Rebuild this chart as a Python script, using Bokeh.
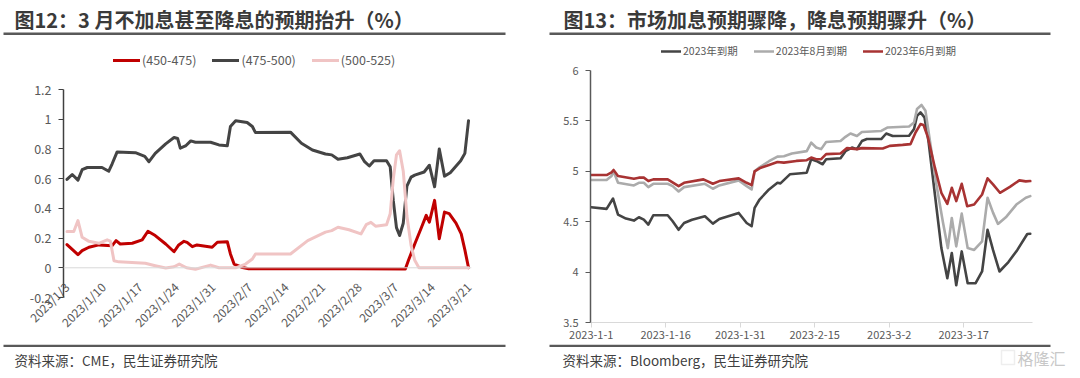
import math
from bokeh.plotting import figure
from bokeh.models import Label, BoxAnnotation, Legend, LegendItem, FixedTicker, Span, Range1d
from bokeh.layouts import row, column
from bokeh.embed import file_html
from bokeh.resources import INLINE

FONT = "Noto Sans CJK SC"

# ---------------- left chart data ----------------
l_title = "图12：3 月不加息甚至降息的预期抬升（%）"
l_source = "资料来源：CME，民生证券研究院"
l_names = ["(450-475)", "(475-500)", "(500-525)"]
l_xticks = [0, 7, 14, 21, 28, 35, 42, 49, 56, 63, 70, 77]
l_xlabels = ["2023/1/3", "2023/1/10", "2023/1/17", "2023/1/24", "2023/1/31", "2023/2/7",
             "2023/2/14", "2023/2/21", "2023/2/28", "2023/3/7", "2023/3/14", "2023/3/21"]
l_yticks = [-0.2, 0, 0.2, 0.4, 0.6, 0.8, 1, 1.2]
l_ylabels = ["-0.2", "0", "0.2", "0.4", "0.6", "0.8", "1", "1.2"]

l_red_d = [0.1, 2.2, 3.0, 4.3, 6.2, 8.75, 9.5, 10.3, 12.6, 14.5, 15.6, 17.0, 19.0, 20.6, 21.5,
           22.5, 23.1, 24.1, 25.0, 27.9, 28.9, 30.8, 31.4, 32.1, 33.7, 34.9, 45.0, 55.0, 64.9,
           65.5, 66.7, 68.0, 68.9, 69.5, 70.5, 71.4, 72.4, 73.3, 74.6, 75.6, 76.3, 77.0]
l_red_v = [0.156, 0.088, 0.115, 0.138, 0.154, 0.149, 0.183, 0.16, 0.165, 0.188, 0.246, 0.217,
           0.16, 0.108, 0.154, 0.178, 0.171, 0.142, 0.154, 0.138, 0.172, 0.176, 0.093, 0.025,
           0.002, -0.007, -0.007, -0.007, -0.008, 0.05, 0.16, 0.273, 0.353, 0.307, 0.454, 0.195,
           0.375, 0.364, 0.30, 0.228, 0.12, 0.0]

l_blk_d = [0.1, 1.1, 2.2, 3.0, 4.0, 6.8, 8.1, 8.75, 9.7, 13.2, 15.0, 15.8, 17.0, 19.0, 20.6,
           21.3, 21.8, 22.8, 23.8, 24.7, 27.6, 29.2, 30.8, 31.4, 32.4, 34.6, 35.6, 36.2, 42.9,
           45.0, 47.1, 49.6, 50.8, 52.0, 53.8, 56.2, 57.1, 58.0, 58.9, 61.3, 62.0, 62.6, 63.2,
           63.8, 64.5, 65.2, 66.0, 66.7, 68.5, 69.5, 70.5, 71.4, 72.4, 73.5, 75.5, 76.3, 77.0]
l_blk_v = [0.595, 0.628, 0.59, 0.66, 0.675, 0.675, 0.65, 0.70, 0.78, 0.775, 0.75, 0.714, 0.77,
           0.834, 0.877, 0.87, 0.805, 0.82, 0.854, 0.845, 0.845, 0.827, 0.822, 0.951, 0.99,
           0.978, 0.951, 0.91, 0.913, 0.838, 0.793, 0.766, 0.76, 0.73, 0.741, 0.766, 0.714,
           0.685, 0.72, 0.72, 0.68, 0.45, 0.27, 0.217, 0.30, 0.55, 0.61, 0.624, 0.645, 0.69,
           0.545, 0.80, 0.617, 0.64, 0.72, 0.77, 0.99]

l_pnk_d = [0.1, 1.4, 2.2, 3.0, 4.3, 6.2, 7.8, 8.4, 9.1, 10.0, 15.1, 17.0, 19.0, 20.6, 21.6,
           23.0, 24.7, 27.6, 29.2, 32.4, 34.3, 35.6, 36.2, 42.9, 46.2, 49.6, 50.8, 52.0, 54.1,
           56.4, 57.4, 58.3, 59.2, 61.3, 62.0, 62.6, 63.2, 63.8, 64.5, 65.2, 66.0, 66.7, 67.5,
           77.0]
l_pnk_v = [0.244, 0.244, 0.318, 0.205, 0.178, 0.165, 0.188, 0.18, 0.047, 0.04, 0.03, 0.014,
           -0.002, 0.007, 0.025, 0.0, -0.01, 0.018, 0.0, 0.0, 0.025, 0.059, 0.093, 0.093, 0.183,
           0.24, 0.25, 0.273, 0.256, 0.228, 0.29, 0.306, 0.28, 0.29, 0.364, 0.6, 0.76, 0.788,
           0.65, 0.35, 0.15, 0.05, 0.0, 0.0]

# ---------------- right chart data ----------------
r_title = "图13：市场加息预期骤降，降息预期骤升（%）"
r_source = "资料来源：Bloomberg，民生证券研究院"
r_names = ["2023年到期", "2023年8月到期", "2023年6月到期"]
r_xticks = [0, 15, 30, 45, 60, 75]
r_xlabels = ["2023-1-1", "2023-1-16", "2023-1-31", "2023-2-15", "2023-3-2", "2023-3-17"]
r_yticks = [3.5, 4, 4.5, 5, 5.5, 6]
r_ylabels = ["3.5", "4", "4.5", "5", "5.5", "6"]

r_dk_d = [0, 3.1, 4.4, 5.4, 7.0, 8.6, 9.6, 10.6, 11.5, 12.5, 15.4, 16.4, 17.6, 18.7, 20.3, 22.9,
          24.5, 25.8, 29.7, 31.3, 32.3, 32.9, 33.9, 35.8, 37.5, 38.1, 40.0, 43.4, 44.3, 45.3,
          46.6, 47.3, 50.2, 51.2, 52.5, 53.5, 54.5, 55.5, 58.4, 59.4, 60.7, 64.0, 65.0, 65.6,
          66.3, 67.1, 67.9, 69.2, 70.5, 71.7, 72.6, 73.5, 74.6, 75.8, 77.4, 78.7, 79.8, 80.9,
          82.2, 84.0, 85.8, 87.8, 88.4]
r_dk_v = [4.644, 4.627, 4.73, 4.571, 4.531, 4.511, 4.544, 4.52, 4.471, 4.564, 4.564, 4.504, 4.42,
          4.487, 4.52, 4.554, 4.481, 4.527, 4.587, 4.487, 4.455, 4.637, 4.72, 4.82, 4.886, 4.88,
          4.97, 4.986, 5.12, 5.103, 5.07, 5.12, 5.13, 5.2, 5.235, 5.22, 5.3, 5.32, 5.32, 5.375,
          5.35, 5.352, 5.42, 5.55, 5.584, 5.535, 5.302, 4.77, 4.238, 3.94, 4.19, 3.87, 4.205,
          3.89, 3.89, 4.006, 4.42, 4.22, 4.006, 4.10, 4.22, 4.378, 4.38]

r_gy_d = [0, 3.1, 4.1, 4.5, 5.4, 8.6, 9.6, 10.6, 11.5, 12.5, 15.4, 16.4, 17.6, 18.7, 22.9, 24.5,
          25.8, 29.7, 31.3, 32.3, 32.9, 33.9, 35.8, 37.5, 38.8, 40.4, 43.4, 44.3, 45.3, 46.3,
          47.3, 50.2, 51.2, 52.2, 53.5, 54.5, 58.4, 59.7, 64.0, 65.0, 65.6, 66.5, 67.3, 68.2,
          69.5, 70.8, 71.8, 72.6, 73.5, 74.6, 75.8, 77.1, 78.7, 79.8, 80.9, 81.9, 83.6, 85.6,
          87.5, 88.4]
r_gy_v = [4.913, 4.913, 4.953, 5.0, 4.886, 4.86, 4.886, 4.886, 4.843, 4.876, 4.876, 4.853, 4.8,
          4.843, 4.876, 4.827, 4.86, 4.91, 4.853, 4.82, 5.0, 5.04, 5.1, 5.146, 5.15, 5.176, 5.2,
          5.285, 5.236, 5.22, 5.29, 5.3, 5.342, 5.375, 5.35, 5.39, 5.4, 5.435, 5.445, 5.485,
          5.618, 5.658, 5.6, 5.3, 4.87, 4.5, 4.238, 4.537, 4.255, 4.58, 4.238, 4.22, 4.305,
          4.737, 4.59, 4.478, 4.55, 4.67, 4.737, 4.754]

r_rd_d = [0, 3.1, 4.1, 4.5, 5.4, 8.6, 9.6, 10.6, 11.5, 12.5, 15.4, 17.6, 18.7, 22.6, 24.5, 25.8,
          29.7, 31.3, 32.3, 32.9, 33.9, 35.8, 37.5, 38.8, 41.3, 43.4, 44.3, 45.3, 46.3, 47.3,
          50.2, 51.5, 53.5, 54.5, 58.7, 60.1, 62.7, 64.3, 65.3, 66.3, 66.9, 67.8, 69.2, 70.5,
          71.7, 72.6, 73.5, 74.6, 75.7, 77.1, 78.7, 79.8, 80.9, 82.3, 84.3, 86.2, 87.5, 88.4]
r_rd_v = [4.963, 4.963, 4.99, 5.013, 4.953, 4.926, 4.937, 4.937, 4.903, 4.92, 4.92, 4.853, 4.886,
          4.92, 4.876, 4.903, 4.93, 4.886, 4.863, 5.0, 5.03, 5.063, 5.093, 5.086, 5.103, 5.11,
          5.136, 5.12, 5.12, 5.17, 5.176, 5.23, 5.22, 5.23, 5.226, 5.252, 5.262, 5.27, 5.385,
          5.468, 5.46, 5.336, 5.036, 4.787, 4.677, 4.837, 4.704, 4.876, 4.654, 4.67, 4.77, 4.93,
          4.87, 4.787, 4.846, 4.91, 4.9, 4.903]

# ---------------- layout constants (canvas pixels) ----------------
W, H = 1080, 378
TOP_H = 40          # title strip height
BOT_Y = 344         # top of source strip
MID_H = BOT_Y - TOP_H


def strip(y0, y1):
    p = figure(width=W, height=y1 - y0, output_backend="svg", toolbar_location=None,
               x_axis_type=None, y_axis_type=None, title=None, min_border=0,
               x_range=Range1d(0, W), y_range=Range1d(y1, y0))
    p.outline_line_color = None
    p.background_fill_color = "white"
    p.border_fill_color = "white"
    return p


def text(p, x, y, s, size, color, bold=False):
    p.add_layout(Label(x=x, y=y, text=s, text_font=FONT, text_font_size=f"{size}px",
                       text_color=color, text_font_style="bold" if bold else "normal",
                       text_align="left", text_baseline="middle"))


def rule(p, x1, x2, y1, y2, color="#595959"):
    p.add_layout(BoxAnnotation(left=x1, right=x2, top=y1, bottom=y2, fill_color=color,
                               fill_alpha=1, line_alpha=0))


top = strip(0, TOP_H)
text(top, 14, 19, l_title, 20, "#3A3A3A", bold=True)
text(top, 563, 19, r_title, 20, "#3A3A3A", bold=True)
rule(top, 3, 505, 32, 34.5)
rule(top, 549, 1050, 32, 34.5)

bot = strip(BOT_Y, H)
rule(bot, 3, 505, BOT_Y, BOT_Y + 2.5)
rule(bot, 549, 1050, BOT_Y, BOT_Y + 2.5)
text(bot, 14, 359, l_source, 13.5, "#404040")
text(bot, 562, 359, r_source, 13.5, "#404040")
text(bot, 1017, 357, "格隆汇", 16, "#C8C8C8")
bot.add_layout(BoxAnnotation(left=1001, right=1014, top=350, bottom=364, fill_alpha=0,
                             line_color="#C8C8C8", line_width=1.5))


def style_axes(p, xt, xl, yt, yl):
    p.xaxis.ticker = FixedTicker(ticks=xt)
    p.xaxis.major_label_overrides = {t: s for t, s in zip(xt, xl)}
    p.yaxis.ticker = FixedTicker(ticks=yt)
    p.yaxis.major_label_overrides = {t: s for t, s in zip(yt, yl)}
    p.yaxis.bounds = (yt[0], yt[-1])
    for ax in (p.xaxis, p.yaxis):
        ax.minor_tick_line_color = None
        ax.major_label_text_font = FONT
        ax.major_label_text_color = "#595959"
    p.xgrid.visible = False
    p.ygrid.visible = False
    p.outline_line_color = None
    p.background_fill_color = "white"
    p.border_fill_color = "white"


FB = 322 - TOP_H   # frame bottom inside mid figures (both)

# ---------------- left figure ----------------
L_LEFT, L_RIGHT = 63, 471
l_ppu = (297 - 89) / 1.4
p1 = figure(width=540, height=MID_H, output_backend="svg", toolbar_location=None, title=None,
            x_range=Range1d(-0.57, 77.57),
            y_range=Range1d(-0.2 - (322 - 297) / l_ppu, 1.2 + (89 - TOP_H) / l_ppu),
            min_border_left=L_LEFT, min_border_right=540 - L_RIGHT, min_border_top=0,
            min_border_bottom=MID_H - FB)
style_axes(p1, l_xticks, l_xlabels, l_yticks, l_ylabels)
p1.xaxis.axis_line_color = None
p1.xaxis.major_tick_line_color = None
p1.xaxis.major_label_orientation = math.pi / 4
p1.xaxis.major_label_standoff = -44
p1.xaxis.major_label_text_font_size = "12px"
p1.yaxis.axis_line_color = "#404040"
p1.yaxis.axis_line_width = 1.5
p1.yaxis.major_tick_line_color = "#404040"
p1.yaxis.major_tick_out = 5
p1.yaxis.major_tick_in = 0
p1.yaxis.major_label_standoff = 7
p1.yaxis.major_label_text_font_size = "12.5px"
p1.add_layout(Span(location=0, dimension="width", line_color="#D9D9D9", line_width=1))

kw = dict(line_width=3, line_join="round", line_cap="round")
r1 = p1.line(l_red_d, l_red_v, line_color="#C00000", **kw)
r2 = p1.line(l_blk_d, l_blk_v, line_color="#444444", **kw)
r3 = p1.line(l_pnk_d, l_pnk_v, line_color="#F0C4C4", **kw)
leg1 = Legend(items=[LegendItem(label=l_names[0], renderers=[r1]),
                     LegendItem(label=l_names[1], renderers=[r2]),
                     LegendItem(label=l_names[2], renderers=[r3])],
              orientation="horizontal", location=(113 - L_LEFT, 322 - 69),
              border_line_color=None, background_fill_alpha=0, padding=0, margin=0,
              spacing=16, label_standoff=2, glyph_width=27, glyph_height=14,
              label_text_font=FONT, label_text_font_size="12.5px", label_text_color="#595959")
p1.add_layout(leg1)

# ---------------- right figure ----------------
R_LEFT, R_RIGHT = 590, 1032
r_ppu = (322 - 70) / 2.5
p2 = figure(width=540, height=MID_H, output_backend="svg", toolbar_location=None, title=None,
            x_range=Range1d(-0.14, 88.85),
            y_range=Range1d(3.5, 6.0 + (70 - TOP_H) / r_ppu),
            min_border_left=R_LEFT - 540, min_border_right=1080 - R_RIGHT, min_border_top=0,
            min_border_bottom=MID_H - FB)
style_axes(p2, r_xticks, r_xlabels, r_yticks, r_ylabels)
p2.xaxis.axis_line_color = "#D9D9D9"
p2.xaxis.major_tick_line_color = "#D9D9D9"
p2.xaxis.major_tick_out = 5
p2.xaxis.major_tick_in = 0
p2.xaxis.major_label_standoff = 3
p2.xaxis.major_label_text_font_size = "11px"
p2.yaxis.axis_line_color = "#595959"
p2.yaxis.axis_line_width = 1.5
p2.yaxis.major_tick_line_color = "#595959"
p2.yaxis.major_tick_out = 5
p2.yaxis.major_tick_in = 0
p2.yaxis.major_label_standoff = 7
p2.yaxis.major_label_text_font_size = "11px"

kw2 = dict(line_width=2.6, line_join="round", line_cap="round")
q1 = p2.line(r_dk_d, r_dk_v, line_color="#444444", **kw2)
q2 = p2.line(r_gy_d, r_gy_v, line_color="#ABABAB", **kw2)
q3 = p2.line(r_rd_d, r_rd_v, line_color="#A83333", **kw2)
leg2 = Legend(items=[LegendItem(label=r_names[0], renderers=[q1]),
                     LegendItem(label=r_names[1], renderers=[q2]),
                     LegendItem(label=r_names[2], renderers=[q3])],
              orientation="horizontal", location=(661 - R_LEFT, 322 - 58),
              border_line_color=None, background_fill_alpha=0, padding=0, margin=0,
              spacing=16, label_standoff=2, glyph_width=20, glyph_height=14,
              label_text_font=FONT, label_text_font_size="10.5px", label_text_color="#595959")
p2.add_layout(leg2)

layout = column(top, row(p1, p2), bot)
open("out.html", "w").write(file_html(layout, INLINE))
